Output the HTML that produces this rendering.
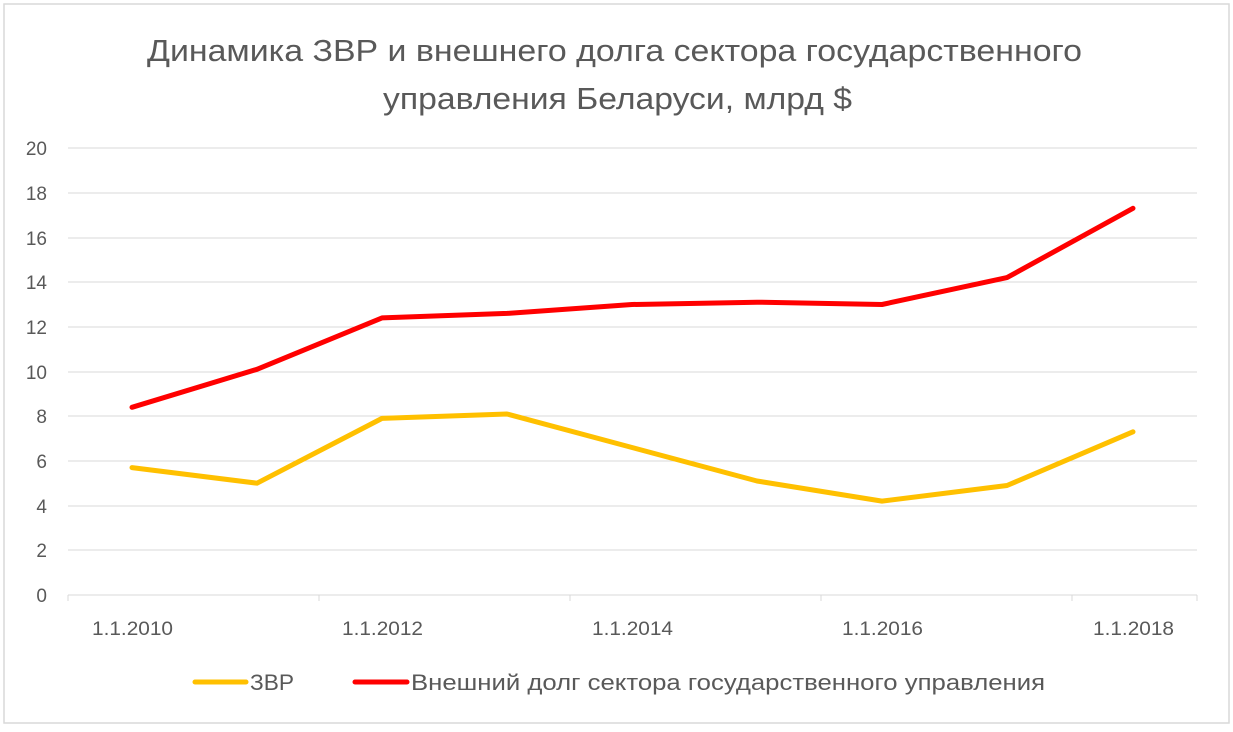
<!DOCTYPE html>
<html><head><meta charset="utf-8"><style>
body{margin:0;background:#fff;}
svg text{font-family:"Liberation Sans",sans-serif;fill:#595959;}
</style></head><body>
<svg width="1233" height="727" xmlns="http://www.w3.org/2000/svg">
<rect x="4" y="4" width="1225" height="719" fill="#fff" stroke="#d9d9d9" stroke-width="1.5"/>
<text x="147" y="61" font-size="31" textLength="935" lengthAdjust="spacingAndGlyphs">Динамика ЗВР и внешнего долга сектора государственного</text>
<text x="383" y="109" font-size="31" textLength="469" lengthAdjust="spacingAndGlyphs">управления Беларуси, млрд $</text>
<g stroke="#d9d9d9" stroke-width="1">
<line x1="68" x2="1197" y1="148" y2="148"/><line x1="68" x2="1197" y1="193" y2="193"/>
<line x1="68" x2="1197" y1="238" y2="238"/><line x1="68" x2="1197" y1="282" y2="282"/>
<line x1="68" x2="1197" y1="327" y2="327"/><line x1="68" x2="1197" y1="372" y2="372"/>
<line x1="68" x2="1197" y1="416" y2="416"/><line x1="68" x2="1197" y1="461" y2="461"/>
<line x1="68" x2="1197" y1="506" y2="506"/><line x1="68" x2="1197" y1="550" y2="550"/>
<line x1="68" x2="1197" y1="595" y2="595"/>
<line x1="68" x2="68" y1="595" y2="601"/><line x1="319" x2="319" y1="595" y2="601"/>
<line x1="570" x2="570" y1="595" y2="601"/><line x1="821" x2="821" y1="595" y2="601"/>
<line x1="1072" x2="1072" y1="595" y2="601"/><line x1="1197" x2="1197" y1="595" y2="601"/>
</g>
<g font-size="19" text-anchor="end">
<text x="47" y="155">20</text><text x="47" y="200">18</text><text x="47" y="245">16</text>
<text x="47" y="289">14</text><text x="47" y="334">12</text><text x="47" y="379">10</text>
<text x="47" y="423">8</text><text x="47" y="468">6</text><text x="47" y="513">4</text>
<text x="47" y="557">2</text><text x="47" y="602">0</text>
</g>
<g font-size="19">
<text x="92" y="635" textLength="81" lengthAdjust="spacingAndGlyphs">1.1.2010</text>
<text x="342" y="635" textLength="81" lengthAdjust="spacingAndGlyphs">1.1.2012</text>
<text x="592" y="635" textLength="81" lengthAdjust="spacingAndGlyphs">1.1.2014</text>
<text x="842" y="635" textLength="81" lengthAdjust="spacingAndGlyphs">1.1.2016</text>
<text x="1093" y="635" textLength="81" lengthAdjust="spacingAndGlyphs">1.1.2018</text>
</g>
<polyline fill="none" stroke="#ffc000" stroke-width="5" stroke-linejoin="round" stroke-linecap="round"
points="132,467.6 257,483.2 382,418.4 507,414 632,447.5 757,481 882,501.1 1007,485.5 1133,431.8"/>
<polyline fill="none" stroke="#ff0000" stroke-width="5" stroke-linejoin="round" stroke-linecap="round"
points="132,407.3 257,369.3 382,317.9 507,313.4 632,304.5 757,302.2 882,304.5 1007,277.6 1133,208.3"/>
<line x1="195" x2="246" y1="682" y2="682" stroke="#ffc000" stroke-width="5" stroke-linecap="round"/>
<text x="250" y="690" font-size="22" textLength="44" lengthAdjust="spacingAndGlyphs">ЗВР</text>
<line x1="355" x2="407" y1="682" y2="682" stroke="#ff0000" stroke-width="5" stroke-linecap="round"/>
<text x="411" y="690" font-size="22" textLength="634" lengthAdjust="spacingAndGlyphs">Внешний долг сектора государственного управления</text>
</svg>
</body></html>
